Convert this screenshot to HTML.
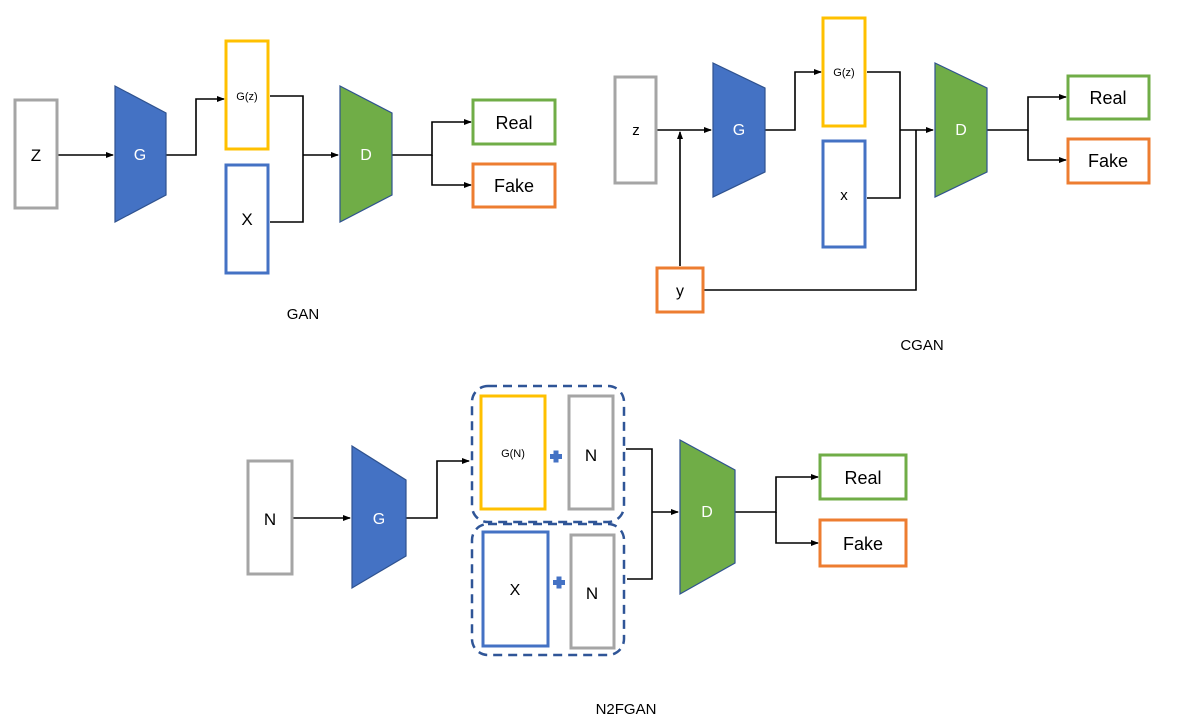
<!DOCTYPE html>
<html><head><style>html,body{margin:0;padding:0;background:#fff}svg{display:block}</style></head><body>
<svg width="1177" height="723" viewBox="0 0 1177 723" xmlns="http://www.w3.org/2000/svg" font-family="Liberation Sans, sans-serif">
<defs><marker id="a" markerWidth="8" markerHeight="8" refX="7" refY="4" orient="auto" markerUnits="userSpaceOnUse"><path d="M0,1 L8,4 L0,7 z" fill="#000"/></marker></defs>
<g fill="none" stroke="#000" stroke-width="1.6">
<!-- GAN -->
<path d="M57,155 H113" marker-end="url(#a)"/>
<path d="M166,155 H196 V99 H224" marker-end="url(#a)"/>
<path d="M270,96 H303 V222 H270"/>
<path d="M303,155 H338" marker-end="url(#a)"/>
<path d="M392,155 H432 V122 H471" marker-end="url(#a)"/>
<path d="M432,155 V185 H471" marker-end="url(#a)"/>
<!-- CGAN -->
<path d="M657,130 H711" marker-end="url(#a)"/>
<path d="M680,266 V132" marker-end="url(#a)"/>
<path d="M765,130 H795 V72 H821" marker-end="url(#a)"/>
<path d="M867,72 H900 V198 H867"/>
<path d="M900,130 H933" marker-end="url(#a)"/>
<path d="M704,290 H916 V130"/>
<path d="M987,130 H1028 V97 H1066" marker-end="url(#a)"/>
<path d="M1028,130 V160 H1066" marker-end="url(#a)"/>
<!-- N2FGAN -->
<path d="M293,518 H350" marker-end="url(#a)"/>
<path d="M406,518 H437 V461 H469" marker-end="url(#a)"/>
<path d="M626,449 H652 V579 H627"/>
<path d="M652,512 H678" marker-end="url(#a)"/>
<path d="M735,512 H776 V477 H818" marker-end="url(#a)"/>
<path d="M776,512 V543 H818" marker-end="url(#a)"/>
</g>
<g stroke-width="3" fill="#fff">
<rect x="15" y="100" width="42" height="108" stroke="#a5a5a5"/>
<rect x="226" y="41" width="42" height="108" stroke="#ffc000"/>
<rect x="226" y="165" width="42" height="108" stroke="#4472c4"/>
<rect x="473" y="100" width="82" height="44" stroke="#70ad47"/>
<rect x="473" y="164" width="82" height="43" stroke="#ed7d31"/>
<rect x="615" y="77" width="41" height="106" stroke="#a5a5a5"/>
<rect x="823" y="18" width="42" height="108" stroke="#ffc000"/>
<rect x="823" y="141" width="42" height="106" stroke="#4472c4"/>
<rect x="657" y="268" width="46" height="44" stroke="#ed7d31"/>
<rect x="1068" y="76" width="81" height="43" stroke="#70ad47"/>
<rect x="1068" y="139" width="81" height="44" stroke="#ed7d31"/>
<rect x="248" y="461" width="44" height="113" stroke="#a5a5a5"/>
<rect x="481" y="396" width="64" height="113" stroke="#ffc000"/>
<rect x="569" y="396" width="44" height="113" stroke="#a5a5a5"/>
<rect x="483" y="532" width="65" height="114" stroke="#4472c4"/>
<rect x="571" y="535" width="43" height="113" stroke="#a5a5a5"/>
<rect x="820" y="455" width="86" height="44" stroke="#70ad47"/>
<rect x="820" y="520" width="86" height="46" stroke="#ed7d31"/>
</g>
<g fill="none" stroke="#2f5597" stroke-width="2.5" stroke-dasharray="9,6">
<rect x="472" y="386" width="152" height="136" rx="16"/>
<rect x="472" y="524" width="152" height="131" rx="16"/>
</g>
<g stroke="#2f528f" stroke-width="1.2">
<polygon points="115,86 166,113 166,195 115,222" fill="#4472c4"/>
<polygon points="340,86 392,113 392,195 340,222" fill="#70ad47"/>
<polygon points="713,63 765,88 765,172 713,197" fill="#4472c4"/>
<polygon points="935,63 987,88 987,172 935,197" fill="#70ad47"/>
<polygon points="352,446 406,480 406,556 352,588" fill="#4472c4"/>
<polygon points="680,440 735,470 735,563 680,594" fill="#70ad47"/>
</g>
<g fill="#4472c4">
<rect x="550" y="454" width="12" height="5"/><rect x="553.5" y="450.5" width="5" height="12"/>
<rect x="553" y="580" width="12" height="5"/><rect x="556.5" y="576.5" width="5" height="12"/>
</g>
<g text-anchor="middle" fill="#000" font-size="17">
<text x="36" y="161">Z</text>
<text x="247" y="100" font-size="11">G(z)</text>
<text x="247" y="225">X</text>
<text x="514" y="129" font-size="18">Real</text>
<text x="514" y="192" font-size="18">Fake</text>
<text x="303" y="319" font-size="15">GAN</text>
<text x="636" y="135" font-size="15">z</text>
<text x="844" y="76" font-size="11">G(z)</text>
<text x="844" y="200" font-size="15">x</text>
<text x="680" y="296" font-size="16">y</text>
<text x="1108" y="104" font-size="18">Real</text>
<text x="1108" y="167" font-size="18">Fake</text>
<text x="922" y="350" font-size="15">CGAN</text>
<text x="270" y="525" font-size="17">N</text>
<text x="513" y="457" font-size="11">G(N)</text>
<text x="591" y="461" font-size="17">N</text>
<text x="515" y="595" font-size="16">X</text>
<text x="592" y="599" font-size="17">N</text>
<text x="863" y="484" font-size="18">Real</text>
<text x="863" y="550" font-size="18">Fake</text>
<text x="626" y="714" font-size="15">N2FGAN</text>
</g>
<g text-anchor="middle" fill="#fff" font-size="16">
<text x="140" y="160">G</text>
<text x="366" y="160">D</text>
<text x="739" y="135">G</text>
<text x="961" y="135">D</text>
<text x="379" y="524">G</text>
<text x="707" y="517">D</text>
</g>
</svg>
</body></html>
